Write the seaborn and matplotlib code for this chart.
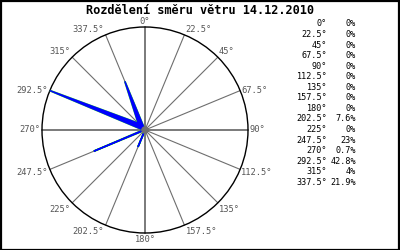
import numpy as np
import matplotlib
matplotlib.use("Agg")
import matplotlib.pyplot as plt
import seaborn as sns
from matplotlib.patches import Circle, Rectangle

sns.set_style("white")
plt.rcParams['font.family'] = ['DejaVu Sans Mono', 'DejaVu Sans']

title = "Rozdělení směru větru 14.12.2010"
directions = [0, 22.5, 45, 67.5, 90, 112.5, 135, 157.5, 180, 202.5, 225, 247.5, 270, 292.5, 315, 337.5]
direction_labels = ["0°", "22.5°", "45°", "67.5°", "90°", "112.5°", "135°", "157.5°",
                    "180°", "202.5°", "225°", "247.5°", "270°", "292.5°", "315°", "337.5°"]
percent = [0, 0, 0, 0, 0, 0, 0, 0, 0, 7.6, 0, 23, 0.7, 42.8, 4, 21.9]
percent_labels = ["0%", "0%", "0%", "0%", "0%", "0%", "0%", "0%", "0%", "7.6%", "0%",
                  "23%", "0.7%", "42.8%", "4%", "21.9%"]

W, H = 400, 250
fig = plt.figure(figsize=(4, 2.5), dpi=100)
R = 103.0
cx, cy = 145.0, 130.0  # pixel centre (from top)
xr, yr = 1.38, 1.22
ax = fig.add_axes([(cx - xr * R) / W, (H - cy - yr * R) / H, 2 * xr * R / W, 2 * yr * R / H])
ax.set_xlim(-xr, xr)
ax.set_ylim(-yr, yr)
ax.axis("off")

# spokes
for d in directions:
    t = np.radians(d)
    main = d % 90 == 0
    ax.plot([0, np.sin(t)], [0, np.cos(t)], color="#7a7a7a" if main else "#6e6e6e",
            lw=1.4 if main else 0.8, zorder=1)

ax.add_patch(Circle((0, 0), 1.0, fill=False, ec="black", lw=1.0, zorder=2))

# radar polygon
vmax = max(percent)
t = np.radians(np.array(directions))
r = np.array(percent) / vmax
xs = r * np.sin(t)
ys = r * np.cos(t)
xc = np.append(xs, xs[0])
yc = np.append(ys, ys[0])
ax.plot(xc, yc, color="#33cc33", lw=1.4, zorder=3, solid_joinstyle="bevel")
ax.fill(xs, ys, facecolor="#0000ff", edgecolor="#0000ff", lw=1.0, zorder=3, joinstyle="bevel")

ax.add_patch(Circle((0, 0), 0.03, color="#707070", zorder=4))

# direction labels
for d, lab in zip(directions, direction_labels):
    tt = np.radians(d)
    s, c = np.sin(tt), np.cos(tt)
    x, y = s, c
    if abs(s) < 1e-6:
        ha = "center"
    elif s > 0:
        ha = "left"
        x += 0.01
    else:
        ha = "right"
        x -= 0.02
    if c > 0.5:
        va = "bottom"
        y += 0.01
    elif c < -0.5:
        va = "top"
        y -= 0.02
    else:
        va = "center"
        y -= 0.03 * (1 if c < -0.1 else 0)
    ax.text(x, y, lab, ha=ha, va=va, fontsize=6.3, color="#555555")

# title
fig.text(0.5, 1 - 11 / H, title, ha="center", va="center", fontsize=8.6,
         fontweight="bold", color="black")

# table
for i, (dl, pl) in enumerate(zip(direction_labels, percent_labels)):
    yy = 1 - (24 + i * 10.55) / H
    fig.text(327 / W, yy, dl, ha="right", va="center", fontsize=6.1, color="black")
    fig.text(356 / W, yy, pl, ha="right", va="center", fontsize=6.1, color="black")

# border
fig.patches.append(Rectangle((0.5 / W, 0.5 / H), 1 - 1.5 / W, 1 - 1.5 / H, transform=fig.transFigure,
                             fill=False, ec="black", lw=1.6))

fig.savefig("out.png", dpi=100, facecolor="white")
